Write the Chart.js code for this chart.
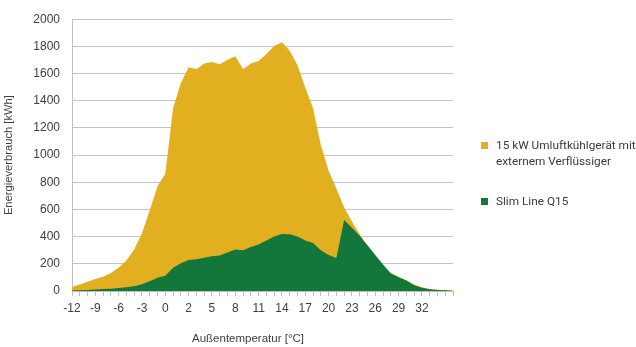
<!DOCTYPE html>
<html>
<head>
<meta charset="utf-8">
<script src="https://cdn.jsdelivr.net/npm/chart.js@4"></script>
<style>
html,body{margin:0;padding:0;background:#fff;overflow:hidden;}
#wrap{position:relative;width:636px;height:347px;}
canvas{position:absolute;left:0;top:0;}
.leg{position:absolute;left:481px;font-family:Roboto,sans-serif;font-size:11.8px;color:#3a3a3a;line-height:16px;}
.sw{position:absolute;left:0;top:4px;width:7px;height:7px;}
.lt{position:absolute;left:15px;top:-1px;white-space:nowrap;}
#xt{position:absolute;left:148px;width:200px;top:330px;text-align:center;font-family:'Liberation Sans',sans-serif;font-size:11.5px;color:#404040;line-height:16px;}
</style>
</head>
<body>
<div id="wrap">
<canvas id="c" width="636" height="347"></canvas>
<div class="leg" style="top:138px;"><div class="sw" style="background:#E1AF20"></div><div class="lt">15 kW Umluftkühlgerät mit<br>externem Verflüssiger</div></div>
<div class="leg" style="top:194px;"><div class="sw" style="background:#13763B"></div><div class="lt">Slim Line Q15</div></div>
<div id="xt">Außentemperatur [°C]</div>
</div>
<script>
const categories = ["-12","-11","-10","-9","-8","-7","-6","-5","-4","-3","-2","-1","0","0,5","1","2","3","4","5","6","7","8","9","10","11","12","13","14","15","16","17","18","19","20","21","22","23","24","25","26","27","28","29","30","31","32","33","34","35","36"];
const umluftValues = [30,48,68,88,105,132,172,225,305,425,594,770,862,1345,1530,1646,1632,1674,1685,1669,1702,1728,1632,1674,1692,1744,1803,1831,1768,1662,1498,1345,1075,885,755,615,512,418,325,245,185,135,105,80,48,27,15,9,5,3];
const slimLineValues = [3,6,8,11,15,17,22,27,35,49,72,97,113,171,204,228,234,244,256,262,284,305,300,324,343,371,401,420,418,401,371,354,300,265,242,523,465,406,336,265,195,129,101,77,42,23,12,8,5,2];
const seriesNames = ["15 kW Umluftkühlgerät mit externem Verflüssiger","Slim Line Q15"];
const yTicksMax = 2000, yStep = 200;

new Chart(document.getElementById('c'), {
  type: 'line',
  data: {
    labels: categories,
    datasets: [
      {label: seriesNames[0], data: umluftValues, backgroundColor: '#E1AF20', borderWidth: 0, pointRadius: 0, fill: 'origin', tension: 0, order: 2},
      {label: seriesNames[1], data: slimLineValues, backgroundColor: '#13763B', borderWidth: 0, pointRadius: 0, fill: 'origin', tension: 0, order: 1}
    ]
  },
  options: {
    responsive: false,
    animation: false,
    layout: {padding: {top: 7, right: 183, left: 0, bottom: 0}},
    plugins: {legend: {display: false}, tooltip: {enabled: false}},
    scales: {
      x: {
        offset: false,
        grid: {drawOnChartArea: false, drawTicks: true, tickLength: 5, color: '#bfbfbf'},
        border: {display: true, color: '#bfbfbf', width: 1},
        ticks: {
          autoSkip: false, maxRotation: 0, padding: 5,
          color: '#404040', font: {family: 'Liberation Sans', size: 12},
          callback: function(v, i){ return (i % 3 === 0 && i <= 45) ? categories[i] : ''; }
        },
        title: {display: false},
        afterFit: function(s){ s.height = 56; }
      },
      y: {
        min: 0, max: yTicksMax,
        grid: {color: '#c4c4c4', lineWidth: 1, drawTicks: false},
        border: {display: true, color: '#bfbfbf', width: 1},
        ticks: {stepSize: yStep, padding: 12, color: '#404040', font: {family: 'Liberation Sans', size: 12},
          callback: function(v){ return String(v); }},
        title: {display: true, text: 'Energieverbrauch [kWh]', color: '#404040', font: {family: 'Liberation Sans', size: 11.2}, padding: {top: 2, bottom: 0}},
        afterFit: function(s){ s.width = 72; }
      }
    }
  }
});
</script>
</body>
</html>
